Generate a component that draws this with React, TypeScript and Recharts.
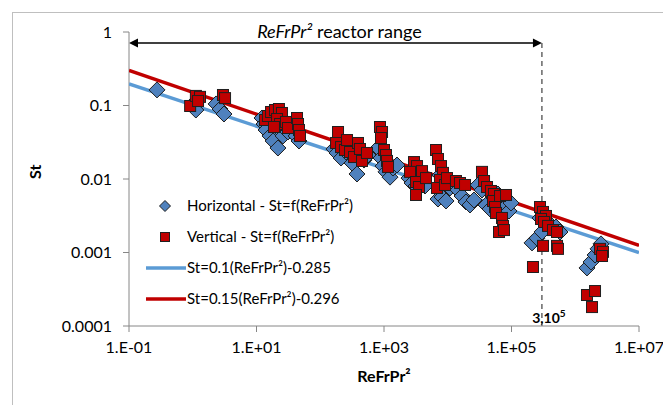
import React from 'react';
import {
  ScatterChart, Scatter, XAxis, YAxis, ReferenceLine, Legend,
} from 'recharts';

const FONT = 'Lato, "Open Sans", sans-serif';
const BLUE_FILL = '#4F81BD';
const RED_FILL = '#C00000';
const BLUE_LINE = '#5B9BD5';
const RED_LINE = '#C00000';

const xTicks = [0.1, 10, 1000, 100000, 10000000];
const xTickLabels = ['1.E-01', '1.E+01', '1.E+03', '1.E+05', '1.E+07'];
const yTicks = [0.0001, 0.001, 0.01, 0.1, 1];
const yTickLabels = ['0.0001', '0.001', '0.01', '0.1', '1'];

// Horizontal reactor - St=f(ReFrPr²)
const horizontalX = [
  0.275, 1.01, 1.12, 2.32, 2.68, 3.09,
  12.2, 13.1, 14.1, 16.3, 18.2, 21.7, 26.1, 31.2, 41.7, 46.4,
  164, 183, 212, 253, 315, 377, 486, 561,
  805, 897, 964, 1074, 1242, 1384, 1600,
  2466, 2748, 3177, 3673, 4395, 7031, 8128, 9397, 7551, 9397, 10840,
  14490, 16750, 19320, 22340, 25820,
  29850, 34440, 39810, 46030, 53090, 61380, 70960, 79070, 91410, 98170,
  209900, 251200, 300600, 279900, 374100, 498900, 576800,
  1528000, 1766000, 2042000, 2275000, 2535000,
];
const horizontalY = [
  0.163, 0.105, 0.0868, 0.105, 0.0896, 0.0766,
  0.0676, 0.056, 0.0464, 0.0385, 0.0329, 0.0264, 0.0385, 0.0436, 0.0385, 0.0329,
  0.0256, 0.0226, 0.0193, 0.0233, 0.0165, 0.0117, 0.0181, 0.0212,
  0.0264, 0.0193, 0.015, 0.0125, 0.0106, 0.0141, 0.0155,
  0.0103, 0.00882, 0.00803, 0.00969, 0.00803, 0.00534, 0.00569, 0.00502, 0.0113, 0.00939, 0.00755,
  0.00708, 0.00587, 0.00487, 0.00443, 0.00518,
  0.00829, 0.00708, 0.00443, 0.00391, 0.00551, 0.00625, 0.00518, 0.00416, 0.00367, 0.00472,
  0.00135, 0.00157, 0.0019, 0.00295, 0.0026, 0.00222, 0.0019,
  0.000616, 0.000743, 0.000925, 0.00112, 0.00131,
];

// Vertical reactor - St=f(ReFrPr²)
const verticalX = [
  0.91, 1.12, 1.3, 1.21, 2.98, 3.21,
  13.6, 15.1, 16.9, 19.5, 22.5, 25.1, 21.0, 23.4, 18.8, 29.0, 31.2, 43.2, 44.8, 46.4, 48.1,
  190, 177, 212, 244, 293, 338, 391, 420, 452, 541, 263,
  865, 931, 897, 1000, 1074, 1114, 1156,
  2956, 3296, 3945, 2559, 3177, 3540, 3177, 4560,
  6546, 7031, 7834, 8414, 7551, 6776, 9057, 9727,
  13460, 15560, 18660,
  34440, 37070, 41300, 47640, 53090, 51290, 55080, 57150, 70960, 73620, 63680, 76210, 66070, 82040,
  279900, 311900, 347500, 290400, 323600, 374100, 447700, 517600, 517600, 535800, 311900, 217300,
  2443000, 2723000, 2630000, 1528000, 2042000, 1832000,
];
const verticalY = [
  0.0985, 0.135, 0.131, 0.115, 0.139, 0.126,
  0.0635, 0.072, 0.0816, 0.0868, 0.0896, 0.0791, 0.0655, 0.056, 0.051, 0.0597, 0.0494, 0.0676, 0.056, 0.0464, 0.0385,
  0.0436, 0.0309, 0.0272, 0.0248, 0.0233, 0.0199, 0.0309, 0.0256, 0.0176, 0.0226, 0.0339,
  0.051, 0.0436, 0.0361, 0.0248, 0.0212, 0.0176, 0.0146,
  0.017, 0.015, 0.0128, 0.0125, 0.0091, 0.00778, 0.00606, 0.0103,
  0.0248, 0.0187, 0.015, 0.0121, 0.00969, 0.00755, 0.00829, 0.0103,
  0.00939, 0.00882, 0.00829,
  0.0125, 0.00939, 0.00778, 0.00687, 0.00625, 0.00502, 0.00416, 0.00345, 0.00295, 0.0023, 0.0019, 0.00202, 0.00587, 0.00606,
  0.00416, 0.00356, 0.00314, 0.00286, 0.0026, 0.0023, 0.00202, 0.0019, 0.00123, 0.00112, 0.00123, 0.000635,
  0.00112, 0.00102, 0.000896, 0.000264, 0.000299, 0.000181,
];

// fitted correlations, end points
const fitX = [0.1, 10000000];
const blueFitY = [0.196, 0.001];
const redFitY = [0.3, 0.00125];

// reactor range annotation
const rangeStart = 0.1;
const rangeEnd = 300000;
const rangeY = 0.71;

const horizontalData = horizontalX.map((x, i) => ({ x, y: horizontalY[i] }));
const verticalData = verticalX.map((x, i) => ({ x, y: verticalY[i] }));
const blueFit = fitX.map((x, i) => ({ x, y: blueFitY[i] }));
const redFit = fitX.map((x, i) => ({ x, y: redFitY[i] }));

const Diamond = (p: any) => {
  const { cx, cy } = p;
  const r = 8;
  return (
    <polygon
      points={`${cx},${cy - r} ${cx + r},${cy} ${cx},${cy + r} ${cx - r},${cy}`}
      fill={BLUE_FILL}
      stroke="#1f1f1f"
      strokeWidth={1}
    />
  );
};

const Square = (p: any) => {
  const { cx, cy } = p;
  const s = 11;
  return <rect x={cx - s / 2} y={cy - s / 2} width={s} height={s} fill={RED_FILL} stroke="#1f1f1f" strokeWidth={1} />;
};

const NoDot = () => <g />;

const RangeArrow = (p: any) => {
  const { x1, y1, x2 } = p;
  const mid = (x1 + x2) / 2;
  return (
    <g>
      <line x1={x1 + 6} y1={y1} x2={x2 - 6} y2={y1} stroke="#000" strokeWidth={1.5} />
      <polygon points={`${x1},${y1} ${x1 + 9},${y1 - 4.5} ${x1 + 9},${y1 + 4.5}`} fill="#000" />
      <polygon points={`${x2},${y1} ${x2 - 9},${y1 - 4.5} ${x2 - 9},${y1 + 4.5}`} fill="#000" />
      <text x={mid + 4} y={y1 - 5} textAnchor="middle" fontFamily={FONT} fontSize={18} fill="#000">
        <tspan fontStyle="italic">ReFrPr²</tspan>
        <tspan> reactor range</tspan>
      </text>
    </g>
  );
};

const RangeLimit = (p: any) => {
  const { x1, y1, x2, y2 } = p;
  const bottom = Math.max(y1, y2);
  const top = Math.min(y1, y2);
  return (
    <g>
      <line x1={x1} y1={top} x2={x2} y2={bottom} stroke="#404040" strokeWidth={1.2} strokeDasharray="5 4" />
      <text x={x1 + 7} y={bottom - 3} textAnchor="middle" fontFamily={FONT} fontSize={14} fontWeight="bold" fill="#000">
        3,10<tspan dy={-6} fontSize={10}>5</tspan>
      </text>
    </g>
  );
};

const legendItems = [
  { kind: 'diamond', label: 'Horizontal - St=f(ReFrPr²)' },
  { kind: 'square', label: 'Vertical - St=f(ReFrPr²)' },
  { kind: 'blue', label: 'St=0.1(ReFrPr²)-0.285' },
  { kind: 'red', label: 'St=0.15(ReFrPr²)-0.296' },
];

const LegendContent = () => (
  <svg width={230} height={125} style={{ display: 'block' }}>
    {legendItems.map((it, i) => {
      const y = 11 + i * 31;
      let mark: React.ReactNode = null;
      if (it.kind === 'diamond') {
        mark = <polygon points={`25,${y - 5.5} 30.5,${y} 25,${y + 5.5} 19.5,${y}`} fill={BLUE_FILL} stroke="#1f1f1f" />;
      } else if (it.kind === 'square') {
        mark = <rect x={20.5} y={y - 4.5} width={9} height={9} fill={RED_FILL} stroke="#1f1f1f" />;
      } else {
        mark = <line x1={6} y1={y} x2={46} y2={y} stroke={it.kind === 'blue' ? BLUE_LINE : RED_LINE} strokeWidth={3.5} />;
      }
      return (
        <g key={it.label}>
          {mark}
          <text x={47} y={y + 5} fontFamily={FONT} fontSize={15} fill="#000">{it.label}</text>
        </g>
      );
    })}
  </svg>
);

export default function App() {
  return (
    <div style={{ position: 'absolute', left: 0, top: 0, width: 663, height: 405, background: '#fff', overflow: 'hidden' }}>
      <div style={{ position: 'absolute', left: 12, top: 12, width: 660, height: 410, border: '1px solid #bfbfbf' }} />
      <ScatterChart width={663} height={405} margin={{ top: 32, right: 24, bottom: 19, left: 29 }} style={{ position: 'absolute', left: 0, top: 0 }}>
        <XAxis
          type="number"
          dataKey="x"
          scale="log"
          domain={[0.1, 10000000]}
          ticks={xTicks}
          allowDataOverflow
          tickFormatter={(v: number) => xTickLabels[xTicks.indexOf(v)] ?? ''}
          tick={{ fill: '#000', fontSize: 16, fontFamily: FONT }}
          axisLine={{ stroke: '#868686' }}
          tickLine={{ stroke: '#868686' }}
          tickSize={6}
          tickMargin={10}
          height={60}
          label={{ value: 'ReFrPr²', position: 'insideBottom', offset: 4, fill: '#000', fontSize: 16, fontWeight: 'bold', fontFamily: FONT }}
        />
        <YAxis
          type="number"
          dataKey="y"
          scale="log"
          domain={[0.0001, 1]}
          ticks={yTicks}
          allowDataOverflow
          tickFormatter={(v: number) => yTickLabels[yTicks.indexOf(v)] ?? ''}
          tick={{ fill: '#000', fontSize: 16, fontFamily: FONT }}
          axisLine={{ stroke: '#868686' }}
          tickLine={{ stroke: '#868686' }}
          tickSize={6}
          tickMargin={11}
          width={100}
          label={{ value: 'St', angle: -90, position: 'insideLeft', offset: 6, fill: '#000', fontSize: 16, fontWeight: 'bold', fontFamily: FONT }}
        />
        <Legend
          layout="vertical"
          align="center"
          verticalAlign="middle"
          content={<LegendContent />}
          wrapperStyle={{ left: 140, top: 195, width: 230, height: 125 }}
        />
        <ReferenceLine
          segment={[{ x: rangeStart, y: rangeY }, { x: rangeEnd, y: rangeY }]}
          shape={<RangeArrow />}
        />
        <ReferenceLine
          segment={[{ x: rangeEnd, y: 0.0001 }, { x: rangeEnd, y: rangeY }]}
          shape={<RangeLimit />}
        />
        <Scatter data={blueFit} line={{ stroke: BLUE_LINE, strokeWidth: 3.5 }} shape={<NoDot />} isAnimationActive={false} legendType="none" />
        <Scatter data={redFit} line={{ stroke: RED_LINE, strokeWidth: 3.5 }} shape={<NoDot />} isAnimationActive={false} legendType="none" />
        <Scatter data={horizontalData} shape={<Diamond />} isAnimationActive={false} />
        <Scatter data={verticalData} shape={<Square />} isAnimationActive={false} />
      </ScatterChart>
    </div>
  );
}
